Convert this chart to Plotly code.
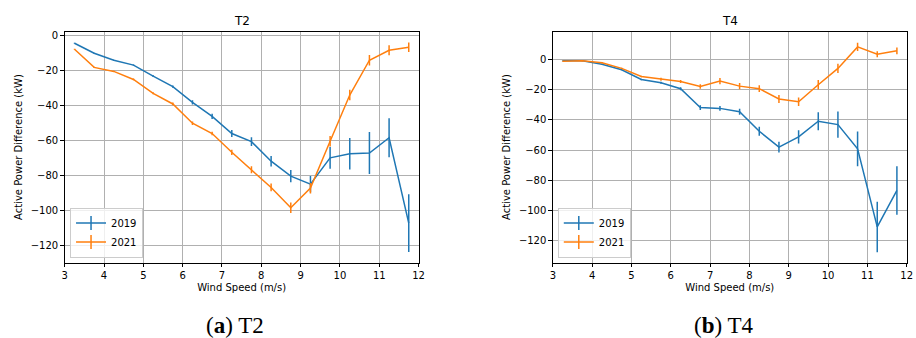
import plotly.graph_objects as go

wind_speed = [3.25, 3.75, 4.25, 4.75, 5.25, 5.75, 6.25, 6.75, 7.25, 7.75,
              8.25, 8.75, 9.25, 9.75, 10.25, 10.75, 11.25, 11.75]

t2_2019 = [-4.2, -9.9, -13.9, -16.7, -23.0, -29.0, -38.0, -46.0, -55.8, -60.4,
           -71.6, -80.1, -84.7, -69.7, -67.4, -66.9, -58.2, -107.0]
t2_2019_err = [0.3, 0.3, 0.3, 0.4, 0.5, 0.7, 1.2, 1.5, 2.0, 2.5,
               3.0, 3.5, 4.6, 6.2, 9.0, 12.0, 11.2, 16.5]
t2_2021 = [-7.6, -18.0, -20.3, -24.9, -32.8, -38.9, -49.9, -55.8, -66.5, -76.5,
           -86.6, -98.2, -87.0, -60.2, -33.8, -13.9, -8.2, -6.5]
t2_2021_err = [0.3, 0.4, 0.4, 0.5, 0.6, 0.8, 1.0, 1.0, 1.5, 2.0,
               2.2, 3.0, 3.0, 3.0, 3.0, 3.0, 2.8, 2.7]

t4_2019 = [-1.1, -1.1, -3.3, -7.0, -13.4, -15.6, -19.5, -32.0, -32.5, -34.7,
           -47.6, -58.1, -51.3, -41.0, -43.2, -59.2, -110.8, -86.7]
t4_2019_err = [0.3, 0.3, 0.3, 0.4, 0.5, 0.7, 1.0, 1.5, 1.5, 2.0,
               3.0, 3.5, 4.4, 6.0, 8.7, 11.5, 16.7, 16.0]
t4_2021 = [-1.3, -1.1, -2.4, -6.1, -11.4, -13.2, -14.7, -18.0, -14.5, -17.8,
           -19.5, -26.3, -28.1, -16.9, -6.1, 8.1, 3.3, 5.5]
t4_2021_err = [0.3, 0.3, 0.3, 0.4, 0.5, 1.0, 1.0, 1.5, 2.0, 2.0,
               2.2, 2.7, 2.8, 3.2, 3.0, 2.7, 2.0, 2.2]

years = ["2019", "2021"]
colors = ["#1f77b4", "#ff7f0e"]
panels = [
    dict(title="T2", caption="(<b>a</b>) T2", series=[(t2_2019, t2_2019_err), (t2_2021, t2_2021_err)],
         yrange=[-129.5, 2.45], ytick_vals=[-120, -100, -80, -60, -40, -20, 0]),
    dict(title="T4", caption="(<b>b</b>) T4", series=[(t4_2019, t4_2019_err), (t4_2021, t4_2021_err)],
         yrange=[-134.3, 18.2], ytick_vals=[-120, -100, -80, -60, -40, -20, 0]),
]
x_ticks = [3, 4, 5, 6, 7, 8, 9, 10, 11, 12]

W, H = 916, 338
x_domains = [[62.3 / W, 419.7 / W], [555.3 / W, 912.7 / W]]
y_domain = [(H - 262.3) / H, (H - 30.7) / H]

fig = go.Figure()

for i, p in enumerate(panels):
    suffix = "" if i == 0 else str(i + 1)
    legend_name = "legend" if i == 0 else "legend2"
    for (vals, errs), year, col in zip(p["series"], years, colors):
        fig.add_trace(go.Scatter(
            x=wind_speed, y=vals, mode="lines",
            line=dict(color=col, width=1.5),
            error_y=dict(type="data", array=errs, visible=True, color=col,
                         thickness=1.5, width=0),
            xaxis="x" + suffix, yaxis="y" + suffix,
            showlegend=False, hoverinfo="x+y",
        ))
    for year, col in zip(years, colors):
        fig.add_trace(go.Scatter(
            x=[None], y=[None], mode="lines+markers", name=year,
            line=dict(color=col, width=1.5),
            marker=dict(symbol="line-ns-open", size=10, color=col,
                        line=dict(color=col, width=1.5)),
            xaxis="x" + suffix, yaxis="y" + suffix,
            legend=legend_name, showlegend=True,
        ))

axis_common = dict(
    showline=True, linecolor="black", linewidth=1, mirror=True,
    ticks="outside", ticklen=3.5, tickwidth=0.8, tickcolor="black",
    showgrid=True, gridcolor="#b0b0b0", gridwidth=1, zeroline=False,
    tickfont=dict(family="DejaVu Sans", size=10, color="black"),
)

layout = dict(
    width=W, height=H, margin=dict(l=0, r=0, t=0, b=0),
    paper_bgcolor="white", plot_bgcolor="white",
    font=dict(family="DejaVu Sans", size=10, color="black"),
)
annotations = []
for i, p in enumerate(panels):
    suffix = "" if i == 0 else str(i + 1)
    xa = dict(axis_common, domain=x_domains[i], range=[3, 12], tickvals=x_ticks,
              anchor="y" + suffix,
              title=dict(text="Wind Speed (m/s)", font=dict(size=10), standoff=3))
    ya = dict(axis_common, domain=y_domain, range=p["yrange"], tickvals=p["ytick_vals"],
              ticktext=[("\u2212" + str(-v)) if v < 0 else str(v) for v in p["ytick_vals"]],
              anchor="x" + suffix,
              title=dict(text="Active Power Difference (kW)", font=dict(size=10), standoff=6))
    layout["xaxis" + suffix] = xa
    layout["yaxis" + suffix] = ya
    xc = (x_domains[i][0] + x_domains[i][1]) / 2
    annotations.append(dict(text=p["title"], x=xc, y=(H - 20) / H, xref="paper", yref="paper",
                            showarrow=False, font=dict(size=12, family="DejaVu Sans"),
                            xanchor="center", yanchor="middle"))
    annotations.append(dict(text=p["caption"], x=(234.5 if i == 0 else 728.5) / W, y=(H - 325) / H,
                            xref="paper", yref="paper", showarrow=False,
                            font=dict(size=23, family="Liberation Serif", color="black"),
                            xanchor="center", yanchor="middle"))
layout["annotations"] = annotations

leg_common = dict(
    bgcolor="rgba(255,255,255,0.8)", bordercolor="#cccccc", borderwidth=1,
    font=dict(size=10, family="DejaVu Sans"), xanchor="left", yanchor="bottom",
    tracegroupgap=0, itemwidth=30,
)
layout["legend"] = dict(leg_common, x=67.7 / W, y=(H - 257.3) / H)
layout["legend2"] = dict(leg_common, x=560.3 / W, y=(H - 257.3) / H)

fig.update_layout(**layout)
fig.write_html("out.html")
